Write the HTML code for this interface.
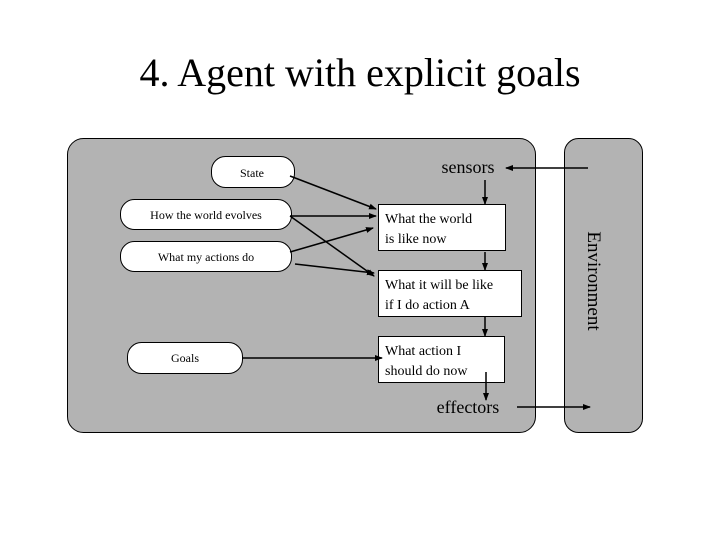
<!DOCTYPE html>
<html><head><style>
body{margin:0;background:#fff;}
svg text{font-family:"Liberation Serif",serif;fill:#000;}
</style></head><body>
<svg width="720" height="540" xmlns="http://www.w3.org/2000/svg">
<defs><marker id="a" markerWidth="8" markerHeight="8" refX="7" refY="4" orient="auto" markerUnits="userSpaceOnUse"><path d="M0,1 L8,4 L0,7 z" fill="#000"/></marker></defs>
<text x="360" y="86" font-size="40" text-anchor="middle">4. Agent with explicit goals</text>
<rect x="67.5" y="138.5" width="468" height="294" rx="16" fill="#b3b3b3" stroke="#000"/>
<rect x="564.5" y="138.5" width="78" height="294" rx="14" fill="#b3b3b3" stroke="#000"/>
<text transform="translate(588,281) rotate(90)" font-size="19" text-anchor="middle">Environment</text>
<rect x="211.5" y="156.5" width="83" height="31" rx="14" fill="#fff" stroke="#000"/>
<text x="252" y="177" font-size="12" text-anchor="middle">State</text>
<rect x="120.5" y="199.5" width="171" height="30" rx="14" fill="#fff" stroke="#000"/>
<text x="206" y="219" font-size="12" text-anchor="middle">How the world evolves</text>
<rect x="120.5" y="241.5" width="171" height="30" rx="14" fill="#fff" stroke="#000"/>
<text x="206" y="261" font-size="12" text-anchor="middle">What my actions do</text>
<rect x="127.5" y="342.5" width="115" height="31" rx="14" fill="#fff" stroke="#000"/>
<text x="185" y="362" font-size="12" text-anchor="middle">Goals</text>
<rect x="378.5" y="204.5" width="127" height="46" fill="#fff" stroke="#000"/>
<text x="385" y="223" font-size="14">What the world</text>
<text x="385" y="243" font-size="14">is like now</text>
<rect x="378.5" y="270.5" width="143" height="46" fill="#fff" stroke="#000"/>
<text x="385" y="289" font-size="14">What it will be like</text>
<text x="385" y="309" font-size="14">if I do action A</text>
<rect x="378.5" y="336.5" width="126" height="46" fill="#fff" stroke="#000"/>
<text x="385" y="355" font-size="14">What action I</text>
<text x="385" y="375" font-size="14">should do now</text>
<text x="468" y="173" font-size="18" text-anchor="middle">sensors</text>
<text x="468" y="413" font-size="18" text-anchor="middle">effectors</text>
<g stroke="#000" stroke-width="1.5" fill="none" marker-end="url(#a)">
<line x1="290" y1="176" x2="376" y2="209"/>
<line x1="290" y1="216" x2="376" y2="216"/>
<line x1="290" y1="216" x2="374" y2="276"/>
<line x1="290" y1="252" x2="373" y2="228"/>
<line x1="295" y1="264" x2="374" y2="273"/>
<line x1="485" y1="180" x2="485" y2="204"/>
<line x1="485" y1="252" x2="485" y2="270"/>
<line x1="485" y1="316" x2="485" y2="336"/>
<line x1="242" y1="358" x2="382" y2="358"/>
<line x1="486" y1="372" x2="486" y2="400"/>
<line x1="588" y1="168" x2="506" y2="168"/>
<line x1="517" y1="407" x2="590" y2="407"/>
</g>
</svg>
</body></html>
